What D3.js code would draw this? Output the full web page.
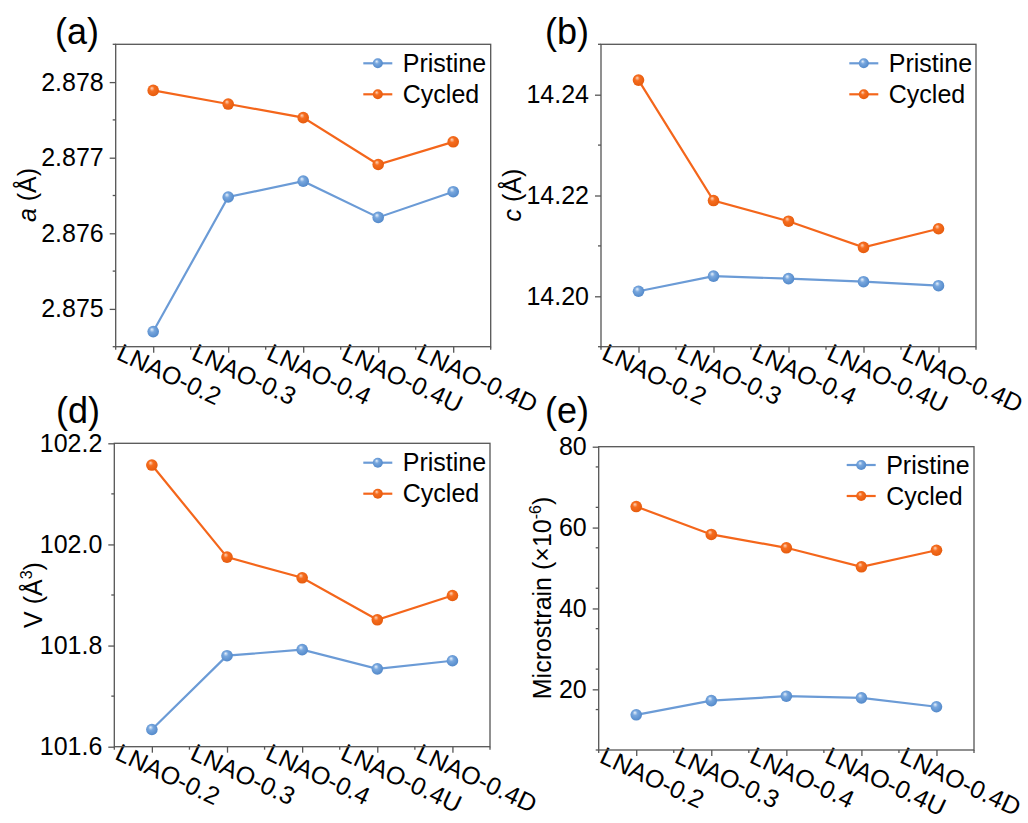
<!DOCTYPE html>
<html>
<head>
<meta charset="utf-8">
<script src="https://cdn.jsdelivr.net/npm/d3@7"></script>
<style>
  html, body { margin: 0; padding: 0; background: #fff; }
  svg { display: block; font-family: "Liberation Sans", Arial, sans-serif; }
</style>
</head>
<body>
<svg id="chart" width="1028" height="823"></svg>
<script>
// ---------- data ----------
const categories = ["LNAO-0.2", "LNAO-0.3", "LNAO-0.4", "LNAO-0.4U", "LNAO-0.4D"];
const seriesNames = ["Pristine", "Cycled"];

const aPristine = [2.8747, 2.87648, 2.87669, 2.87621, 2.87655];
const aCycled   = [2.87789, 2.87771, 2.87753, 2.87691, 2.87721];

const cPristine = [14.2010, 14.2040, 14.2035, 14.2029, 14.2021];
const cCycled   = [14.2429, 14.2190, 14.2149, 14.2097, 14.2134];

const vPristine = [101.634, 101.780, 101.792, 101.754, 101.770];
const vCycled   = [102.157, 101.975, 101.934, 101.851, 101.899];

const sPristine = [13.7, 17.2, 18.3, 17.9, 15.7];
const sCycled   = [65.2, 58.3, 55.0, 50.3, 54.4];

const aTicks = [2.875, 2.876, 2.877, 2.878];
const aTickLabels = ["2.875", "2.876", "2.877", "2.878"];
const cTicks = [14.20, 14.22, 14.24];
const cTickLabels = ["14.20", "14.22", "14.24"];
const vTicks = [101.6, 101.8, 102.0, 102.2];
const vTickLabels = ["101.6", "101.8", "102.0", "102.2"];
const sTicks = [20, 40, 60, 80];
const sTickLabels = ["20", "40", "60", "80"];

// ---------- styling ----------
const colors = { Pristine: "#6b9bd6", Cycled: "#f4661b" };
const axisColor = "#555";
const svg = d3.select("#chart");

// gradients for spherical markers
const defs = svg.append("defs");
function addGrad(id, light, mid, dark) {
  const g = defs.append("radialGradient").attr("id", id)
    .attr("cx", "0.45").attr("cy", "0.45").attr("r", "0.6")
    .attr("fx", "0.38").attr("fy", "0.3");
  g.append("stop").attr("offset", "0%").attr("stop-color", light);
  g.append("stop").attr("offset", "35%").attr("stop-color", mid);
  g.append("stop").attr("offset", "100%").attr("stop-color", dark);
}
addGrad("gPristine", "#e8f1fb", "#78a7de", "#4f86c8");
addGrad("gCycled", "#fcd6bd", "#f66d1f", "#e45a0c");

const panels = [
  { tag: "(a)", tagX: 55, tagY: 44, x0: 115.7, x1: 490.7, y0: 44.3, y1: 346.7,
    domain: [2.8745, 2.8785], ticks: aTicks, labels: aTickLabels, minorStep: 0.0005,
    p: aPristine, c: aCycled, ylab: "a", ylabX: 36, ylabY: 195, legX: 363.3, legY: 63.3 },
  { tag: "(b)", tagX: 545, tagY: 44, x0: 601, x1: 976, y0: 44.3, y1: 346.7,
    domain: [14.19, 14.25], ticks: cTicks, labels: cTickLabels, minorStep: 0.01,
    p: cPristine, c: cCycled, ylab: "c", ylabX: 521, ylabY: 195, legX: 849.3, legY: 63.3 },
  { tag: "(d)", tagX: 56, tagY: 423, x0: 114.3, x1: 490, y0: 443.3, y1: 746.7,
    domain: [101.6, 102.2], ticks: vTicks, labels: vTickLabels, minorStep: 0.1,
    p: vPristine, c: vCycled, ylab: "V", ylabX: 42, ylabY: 595, legX: 363.3, legY: 462.7 },
  { tag: "(e)", tagX: 545, tagY: 423, x0: 598.7, x1: 974, y0: 446.7, y1: 750,
    domain: [5, 80], ticks: sTicks, labels: sTickLabels, minorStep: 10,
    p: sPristine, c: sCycled, ylab: "M", ylabX: 551, ylabY: 598, legX: 846.7, legY: 465 }
];

panels.forEach(P => {
  const g = svg.append("g");
  const x = d3.scaleLinear().domain([-0.5, categories.length - 0.5]).range([P.x0, P.x1]);
  const y = d3.scaleLinear().domain(P.domain).range([P.y1, P.y0]);

  // panel tag
  g.append("text").attr("x", P.tagX).attr("y", P.tagY)
    .attr("font-size", 36).attr("fill", "#000").text(P.tag);

  // left axis with major ticks + labels
  const yAxis = d3.axisLeft(y).tickValues(P.ticks)
    .tickFormat((d, i) => P.labels[i]).tickSize(6).tickPadding(6);
  const ya = g.append("g").attr("transform", `translate(${P.x0},0)`).call(yAxis);
  ya.select(".domain").remove();
  ya.selectAll("line").attr("stroke", axisColor).attr("stroke-width", 1.3);
  ya.selectAll("text").attr("font-size", 25).attr("fill", "#000")
    .attr("font-family", "'Liberation Sans', Arial, sans-serif");

  // y minor ticks
  const minorVals = d3.range(P.domain[0], P.domain[1] + P.minorStep / 2, P.minorStep)
    .filter(v => !P.ticks.some(t => Math.abs(t - v) < P.minorStep / 10));
  g.selectAll(".ymin").data(minorVals).join("line")
    .attr("x1", P.x0).attr("x2", P.x0 - 3)
    .attr("y1", d => y(d)).attr("y2", d => y(d))
    .attr("stroke", axisColor).attr("stroke-width", 1.3);

  // bottom axis
  const xAxis = d3.axisBottom(x).tickValues(d3.range(categories.length))
    .tickFormat(() => "").tickSize(6);
  const xa = g.append("g").attr("transform", `translate(0,${P.y1})`).call(xAxis);
  xa.select(".domain").remove();
  xa.selectAll("line").attr("stroke", axisColor).attr("stroke-width", 1.3);
  const xMinor = d3.range(-0.5, categories.length, 1);
  g.selectAll(".xmin").data(xMinor).join("line")
    .attr("x1", d => x(d)).attr("x2", d => x(d))
    .attr("y1", P.y1).attr("y2", P.y1 + 3)
    .attr("stroke", axisColor).attr("stroke-width", 1.3);

  // rotated category labels
  g.selectAll(".xlab").data(categories).join("text")
    .attr("transform", (d, i) => `translate(${x(i) - 38},${P.y1 + 12}) rotate(25)`)
    .attr("font-size", 25).attr("fill", "#000")
    .text(d => d);

  // frame
  g.append("rect").attr("x", P.x0).attr("y", P.y0)
    .attr("width", P.x1 - P.x0).attr("height", P.y1 - P.y0)
    .attr("fill", "none").attr("stroke", axisColor).attr("stroke-width", 1.3);

  // y label
  const yl = g.append("text")
    .attr("transform", `translate(${P.ylabX},${P.ylabY}) rotate(-90)`)
    .attr("text-anchor", "middle").attr("font-size", 25).attr("fill", "#000");
  if (P.ylab === "a" || P.ylab === "c") {
    yl.append("tspan").attr("font-style", "italic").text(P.ylab);
    yl.append("tspan").text(" (Å)");
  } else if (P.ylab === "V") {
    yl.append("tspan").text("V (Å");
    yl.append("tspan").attr("font-size", 16).attr("dy", -10).text("3");
    yl.append("tspan").attr("dy", 10).text(")");
  } else {
    yl.append("tspan").text("Microstrain (×10");
    yl.append("tspan").attr("font-size", 16).attr("dy", -10).text("-6");
    yl.append("tspan").attr("dy", 10).text(")");
  }

  // series
  const line = d3.line().x((d, i) => x(i)).y(d => y(d));
  [["Pristine", P.p], ["Cycled", P.c]].forEach(([name, vals]) => {
    g.append("path").datum(vals).attr("d", line)
      .attr("fill", "none").attr("stroke", colors[name]).attr("stroke-width", 2.2);
    g.selectAll(".m" + name).data(vals).join("circle")
      .attr("cx", (d, i) => x(i)).attr("cy", d => y(d)).attr("r", 5.8)
      .attr("fill", `url(#g${name})`);
  });

  // legend
  seriesNames.forEach((name, k) => {
    const ly = P.legY + k * 31;
    g.append("line").attr("x1", P.legX).attr("x2", P.legX + 29)
      .attr("y1", ly).attr("y2", ly).attr("stroke", colors[name]).attr("stroke-width", 2.2);
    g.append("circle").attr("cx", P.legX + 14.5).attr("cy", ly).attr("r", 5)
      .attr("fill", `url(#g${name})`);
    g.append("text").attr("x", P.legX + 39.5).attr("y", ly).attr("dy", "0.35em")
      .attr("font-size", 25).attr("fill", "#000").text(name);
  });
});
</script>
</body>
</html>
